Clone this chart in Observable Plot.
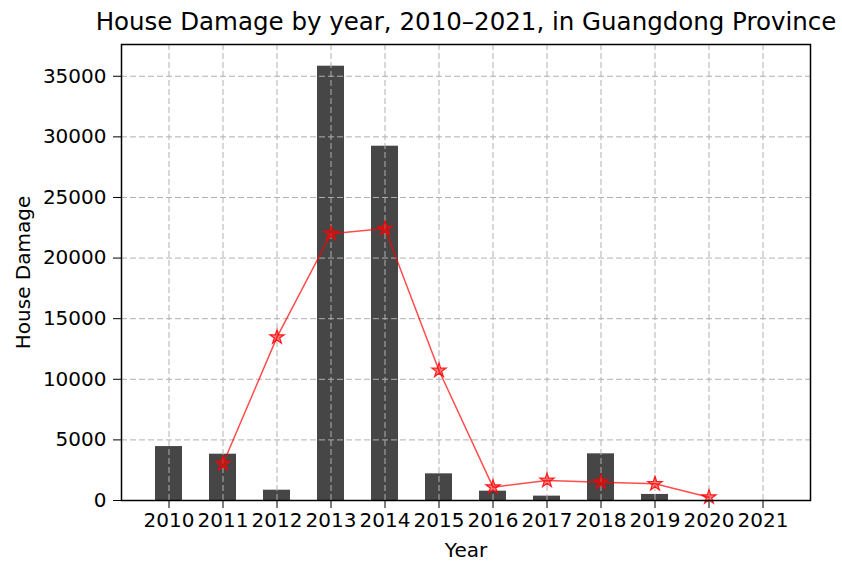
<!DOCTYPE html>
<html>
<head>
<meta charset="utf-8">
<script src="https://cdn.jsdelivr.net/npm/d3@7"></script>
<script src="https://cdn.jsdelivr.net/npm/@observablehq/plot@0.6"></script>
<style>
  body { margin: 0; background: #fff; font-family: "DejaVu Sans", sans-serif; }
  #title { width: 842px; height: 40px; box-sizing: border-box; padding-left: 90px; text-align: center;
           font-size: 24.5px; line-height: 44px; color: #000; white-space: nowrap; }
</style>
</head>
<body>
<div id="title">House Damage by year, 2010–2021, in Guangdong Province</div>
<div id="chart"></div>
<script>
const years = ["2010","2011","2012","2013","2014","2015","2016","2017","2018","2019","2020","2021"];
const barValues = [4450, 3820, 850, 35830, 29230, 2200, 770, 360, 3850, 500, 0, 0];
const lineValues = [null, 3030, 13480, 22010, 22430, 10725, 1100, 1650, 1510, 1375, 275, null];
const yTicks = [0, 5000, 10000, 15000, 20000, 25000, 30000, 35000];

const bars = years.map((y, i) => ({year: y, value: barValues[i]}));
const line = years.map((y, i) => ({year: y, value: lineValues[i]}));
const linePts = line.filter(d => d.value != null);

const chart = Plot.plot({
  width: 842,
  height: 523,
  marginTop: 4,
  marginBottom: 63,
  marginLeft: 121,
  marginRight: 32,
  style: {fontFamily: "DejaVu Sans, sans-serif", fontSize: "20px", color: "#000", background: "#fff"},
  x: {domain: years, paddingInner: 0.5, paddingOuter: 0.575, align: 0.5},
  y: {domain: [0, 37620]},
  marks: [
    Plot.barY(bars, {x: "year", y: "value", fill: "#464646"}),
    Plot.gridX({stroke: "#b0b0b0", strokeOpacity: 1, strokeWidth: 1, strokeDasharray: "6,3"}),
    Plot.gridY(yTicks, {stroke: "#b0b0b0", strokeOpacity: 1, strokeWidth: 1, strokeDasharray: "6,3"}),
    Plot.lineY(linePts, {x: "year", y: "value", stroke: "red", strokeOpacity: 0.7, strokeWidth: 1.5}),
    Plot.dot(linePts, {x: "year", y: "value", symbol: "star", r: 4.5, fill: "red", fillOpacity: 0.5, stroke: "red", strokeOpacity: 0.85, strokeWidth: 1.2}),
    Plot.frame({stroke: "#000", strokeWidth: 1.5}),
    Plot.axisX({tickSize: 8, tickPadding: 4, fontSize: 20, label: "Year", labelAnchor: "center", labelArrow: "none", labelOffset: 56}),
    Plot.axisY({ticks: yTicks, tickSize: 8, tickPadding: 7, fontSize: 20, tickFormat: d => String(d), label: "House Damage", labelAnchor: "center", labelArrow: "none", labelOffset: 106})
  ]
});
document.getElementById("chart").appendChild(chart);
</script>
</body>
</html>
